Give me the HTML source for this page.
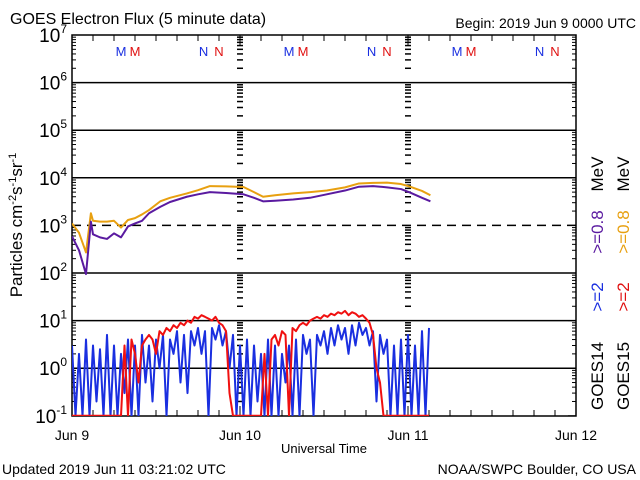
<!DOCTYPE html>
<html><head><meta charset="utf-8"><style>
body{margin:0;background:#fff;}
svg{display:block;font-family:"Liberation Sans",sans-serif;}
</style></head><body>
<svg id="chart" width="640" height="480" viewBox="0 0 640 480">
<text x="10" y="24" font-size="16">GOES Electron Flux (5 minute data)</text>
<text x="636" y="28" font-size="14" text-anchor="end">Begin: 2019 Jun 9 0000 UTC</text>
<text transform="translate(22,225) rotate(-90)" font-size="17" text-anchor="middle">Particles cm<tspan dy="-6" font-size="11">-2</tspan><tspan dy="6">s</tspan><tspan dy="-6" font-size="11">-1</tspan><tspan dy="6">sr</tspan><tspan dy="-6" font-size="11">-1</tspan></text>
<text x="324" y="453" font-size="13" text-anchor="middle">Universal Time</text>
<text x="2" y="474" font-size="14">Updated 2019 Jun 11 03:21:02 UTC</text>
<text x="636" y="474" font-size="14" text-anchor="end">NOAA/SWPC Boulder, CO USA</text>
<g id="axes"></g>
<g id="series" clip-path="url(#clip)"></g>
<defs><clipPath id="clip"><rect x="72" y="35" width="504" height="381"/></clipPath></defs>
<g font-size="17">
<text transform="translate(603,376) rotate(-90)" text-anchor="middle" fill="#000">GOES14</text>
<text transform="translate(603,297) rotate(-90)" text-anchor="middle" fill="#1a2fe0">&gt;=2</text>
<text transform="translate(603,232) rotate(-90)" text-anchor="middle" fill="#5a1aa0">&gt;=0.8</text>
<text transform="translate(603,174) rotate(-90)" text-anchor="middle" fill="#000">MeV</text>
<text transform="translate(629,376) rotate(-90)" text-anchor="middle" fill="#000">GOES15</text>
<text transform="translate(629,297) rotate(-90)" text-anchor="middle" fill="#e01010">&gt;=2</text>
<text transform="translate(629,232) rotate(-90)" text-anchor="middle" fill="#e8a010">&gt;=0.8</text>
<text transform="translate(629,174) rotate(-90)" text-anchor="middle" fill="#000">MeV</text>
</g>
</svg>
<script>
const dayLabels=["Jun 9","Jun 10","Jun 11","Jun 12"];
const decades=[-1,0,1,2,3,4,5,6,7];
const hrTimes=[0,1,2,2.7,3,4,5,6,7,8,9,10,11,12.6,14,16.4,18,19.7,22,24.5,26,27.3,29,31.6,34,36.4,39,41,43,45,47,48.3,50,51.2];
const orange=[1100,700,270,1800,1250,1200,1200,1250,900,1300,1420,1700,2100,3200,3800,4700,5500,6700,6600,6400,5000,4000,4300,4700,5000,5400,6300,7600,7800,7900,7400,6500,5300,4300];
const purple=[590,300,95,1200,650,560,520,680,560,950,1100,1250,1800,2450,3100,4000,4500,5000,4800,4500,3800,3200,3300,3500,3800,4500,5400,6500,6700,6300,5800,4900,3800,3200];
const halfTimes=[];for(let i=0;i<=102;i++)halfTimes.push(i*0.5);
const blue=[3,0.1,2,0.1,4,0.1,3,0.2,2.5,0.1,5,0.1,3,0.1,2,0.3,4,0.1,3,0.1,5,0.5,3,0.2,4,1,5,0.1,4,2,6,0.5,5,0.3,6,3,7,2,6,0.1,7,4,8,3,6,1,5,0.1,3,0.1,4,0.1,3,0.2,2,0.1,4,0.1,3,0.1,2,0.5,3,0.1,4,0.1,5,2,4,0.1,5,3,6,2,7,3,8,4,7,2,8,3,9,5,7,3,6,0.2,5,2,4,0.1,3,0.1,4,0.1,5,0.1,3,0.1,6,0.1,7];
const red=[0.1,0.1,0.1,0.1,0.1,0.1,0.1,0.1,0.1,0.1,0.1,0.1,0.1,0.1,0.1,3,0.1,4,2,0.5,3,4,5,4,2,6,5,7,6,8,7,9,8,10,9,12,11,13,12,11,10,12,9,8,6,0.3,0.1,0.1,0.1,0.1,0.1,0.1,0.1,0.1,0.1,2,0.1,4,5,3,6,5,0.1,7,6,8,9,8,10,11,12,11,13,12,14,13,15,14,16,13,15,14,12,13,11,9,5,1,0.5,0.1,0.1,0.1,0.1,0.1,0.1,0.1,0.1,0.1,0.1,0.1,0.1,0.1,0.1];
const markers=[{t:7,l:"M",c:"#1a2fe0"},{t:9,l:"M",c:"#e01010"},{t:18.8,l:"N",c:"#1a2fe0"},{t:21,l:"N",c:"#e01010"}];

const X0=72,X1=576,Y0=35,Y1=416,DEC=47.6;
const xs=h=>X0+h*(X1-X0)/72;
const ys=v=>Y0+(7-Math.log10(Math.max(v,0.09)))*DEC;
const NS="http://www.w3.org/2000/svg";
function mk(tag,attrs,parent){const e=document.createElementNS(NS,tag);for(const k in attrs)e.setAttribute(k,attrs[k]);parent.appendChild(e);return e;}
const ax=document.getElementById('axes'),sg=document.getElementById('series');
decades.forEach(d=>{
  if(d===7||d===-1)return;
  const y=ys(Math.pow(10,d));
  const l=mk('line',{x1:X0,x2:X1,y1:y,y2:y,stroke:'#000','stroke-width':1.5},ax);
  if(d===3)l.setAttribute('stroke-dasharray','9,6');
  
  
});
[X0,xs(24),xs(48),X1].forEach((x,i)=>{
  decades.forEach(d=>{
    for(let m=1;m<10;m++){
      const v=m*Math.pow(10,d);const y=ys(v);
      if(y<Y0-0.5||y>Y1)continue;
      const len=m===1?8:4;
      if(i===0)mk('line',{x1:x,x2:x+len,y1:y,y2:y,stroke:'#000'},ax);
      else if(i===3)mk('line',{x1:x-len,x2:x,y1:y,y2:y,stroke:'#000'},ax);
      else if(m!==1)mk('line',{x1:x-3,x2:x+3,y1:y,y2:y,stroke:'#000','stroke-width':1.5},ax);
    }
  });
});
const fr=mk('rect',{x:X0,y:Y0,width:X1-X0,height:Y1-Y0,fill:'none',stroke:'#000','stroke-width':1.5},ax);


for(let h=0;h<=72;h+=3){
  const x=xs(h);const len=h%24===0?10:6;
  mk('line',{x1:x,x2:x,y1:Y1,y2:Y1-len,stroke:'#000'},ax);
  mk('line',{x1:x,x2:x,y1:Y0,y2:Y0+len,stroke:'#000'},ax);
}
dayLabels.forEach((lab,i)=>{
  const t=mk('text',{x:xs(i*24),y:440,'font-size':14,'text-anchor':'middle'},ax);t.textContent=lab;
  
  
});
decades.forEach(d=>{
  const y=ys(Math.pow(10,d));
  const t=mk('text',{x:X0-5,y:y+7,'font-size':19,'text-anchor':'end'},ax);
  t.innerHTML='10<tspan dy="-9" font-size="12">'+d+'</tspan>';
  
  
});
for(let day=0;day<3;day++)markers.forEach(m=>{
  const t=mk('text',{x:xs(day*24+m.t),y:56,'font-size':13,fill:m.c,'text-anchor':'middle'},ax);t.textContent=m.l;
  
  
});
function line(times,vals,color,name,w){
  const p=mk('polyline',{points:times.map((t,i)=>xs(t)+','+ys(vals[i])).join(' '),fill:'none',stroke:color,'stroke-width':w,'stroke-linejoin':'round'},sg);
  
  
}
line(halfTimes,blue,'#1a2fe0','goes14-2mev-line',2);
line(halfTimes,red,'#f01010','goes15-2mev-line',2);
line(hrTimes,orange,'#e8a010','goes15-08mev-line',2);
line(hrTimes,purple,'#5a1aa0','goes14-08mev-line',2);
</script>
</body></html>
